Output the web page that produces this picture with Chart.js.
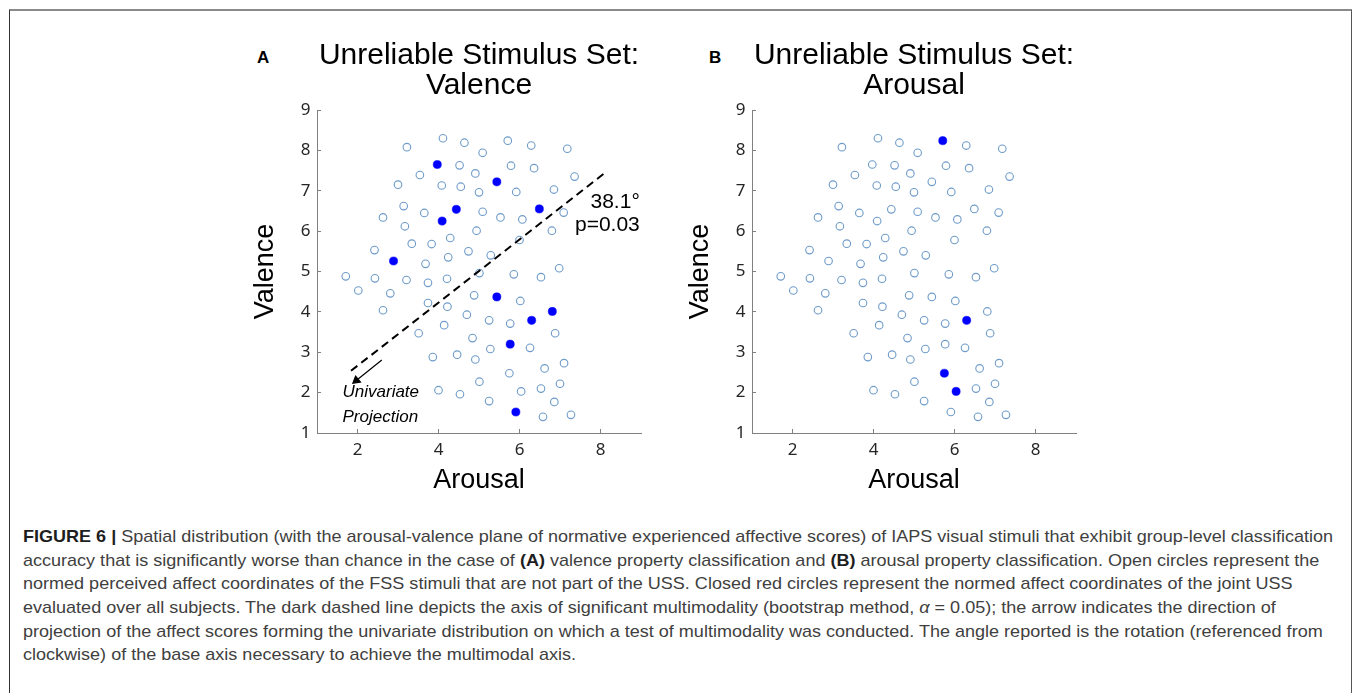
<!DOCTYPE html>
<html>
<head>
<meta charset="utf-8">
<script src="https://cdn.jsdelivr.net/npm/chart.js@4.4.1/dist/chart.umd.min.js"></script>
<style>
  html, body { margin: 0; padding: 0; background: #fff; }
  body { width: 1355px; height: 693px; position: relative; overflow: hidden; font-family: 'Liberation Sans', Arial, sans-serif; }
  .frame { position: absolute; left: 9px; top: 9px; width: 1341px; height: 720px; border-top: 2px solid #8a8a8a; border-left: 1px solid #333; border-right: 1px solid #555; }
  canvas { position: absolute; top: 30px; }
  #chartA { left: 230px; }
  #chartB { left: 665px; }
  .letter { position: absolute; top: 48px; font: bold 17px 'Liberation Sans', Arial, sans-serif; line-height: 20px; color: #000; }
  #caption { position: absolute; left: 23px; top: 525px; font-size: 17px; line-height: 23.65px; color: #404040; white-space: nowrap; transform-origin: 0 0;
    font-family: 'Liberation Sans', Arial, sans-serif; }
  #caption b { color: #1e1e1e; }
  #caption span { display: inline-block; }
</style>
</head>
<body>
<div class="frame"></div>
<div class="letter" style="left:257px">A</div>
<div class="letter" style="left:709px">B</div>
<canvas id="chartA" width="440" height="475"></canvas>
<canvas id="chartB" width="440" height="475"></canvas>
<div id="caption">
  <div><span id="l1"><b>FIGURE 6 |</b> Spatial distribution (with the arousal-valence plane of normative experienced affective scores) of IAPS visual stimuli that exhibit group-level classification</span></div>
  <div>accuracy that is significantly worse than chance in the case of <b>(A)</b> valence property classification and <b>(B)</b> arousal property classification. Open circles represent the</div>
  <div>normed perceived affect coordinates of the FSS stimuli that are not part of the USS. Closed red circles represent the normed affect coordinates of the joint USS</div>
  <div>evaluated over all subjects. The dark dashed line depicts the axis of significant multimodality (bootstrap method, <i>α</i> = 0.05); the arrow indicates the direction of</div>
  <div>projection of the affect scores forming the univariate distribution on which a test of multimodality was conducted. The angle reported is the rotation (referenced from</div>
  <div>clockwise) of the base axis necessary to achieve the multimodal axis.</div>
</div>
<script>
// normed affect scores of the FSS stimuli
const arousal = [4.11, 4.64, 5.71, 3.22, 6.29, 7.18, 5.09, 3.97, 4.52, 5.79,
  6.36, 3.54, 4.91, 7.36, 5.44, 3.00, 4.08, 4.55, 5.00, 5.92,
  6.85, 3.14, 4.44, 6.49, 2.63, 3.65, 5.09, 5.53, 7.09, 4.09,
  6.07, 3.17, 4.94, 6.80, 4.29, 6.00, 2.42, 3.34, 3.83, 4.74,
  5.29, 2.89, 4.24, 3.68, 6.98, 1.71, 2.43, 3.21, 3.74, 4.21,
  5.01, 5.86, 6.53, 2.02, 2.81, 4.88, 5.44, 2.63, 3.74, 4.22,
  6.02, 6.81, 4.70, 5.25, 6.30, 4.14, 5.77, 3.51, 6.88, 4.84,
  5.77, 5.28, 6.26, 3.86, 4.46, 4.91, 6.62, 7.10, 5.75, 5.01,
  7.00, 4.00, 4.53, 6.04, 6.53, 5.25, 6.86, 5.91, 6.58, 7.27]
const valence = [8.30, 8.19, 8.24, 8.08, 8.12, 8.04, 7.94, 7.65, 7.63, 7.62,
  7.56, 7.39, 7.43, 7.35, 7.22, 7.15, 7.13, 7.10, 6.96, 6.97,
  7.03, 6.62, 6.54, 6.55, 6.34, 6.45, 6.48, 6.34, 6.46, 6.25,
  6.29, 6.12, 6.01, 6.01, 5.83, 5.78, 5.53, 5.69, 5.68, 5.50,
  5.40, 5.26, 5.35, 5.19, 5.08, 4.88, 4.83, 4.79, 4.72, 4.82,
  4.96, 4.93, 4.86, 4.53, 4.46, 4.41, 4.37, 4.04, 4.22, 4.13,
  4.27, 4.01, 3.93, 3.79, 3.79, 3.67, 3.71, 3.47, 3.47, 3.35,
  3.20, 3.08, 3.11, 2.88, 2.94, 2.82, 2.60, 2.73, 2.48, 2.27,
  2.22, 2.06, 1.96, 2.03, 2.10, 1.79, 1.77, 1.52, 1.40, 1.45]

// stimuli in the unreliable stimulus set (index into the lists above)
const ussValence = [7, 14, 22, 23, 29, 41, 56, 61, 64, 70, 87]
const ussArousal = [2, 64, 78, 83]

// multimodal axis (dashed) and projection arrow, panel A
const axisX = [1.84, 8.17]
const axisY = [2.54, 7.49]
const arrowX = [2.60, 1.97]
const arrowY = [2.81, 2.30]

const xTicks = [2, 4, 6, 8]
const yTicks = [1, 2, 3, 4, 5, 6, 7, 8, 9]

function pts(xs, ys) {
  return xs.map((x, i) => ({ x: x, y: ys[i] }))
}

function split(uss) {
  const open = [], closed = []
  arousal.forEach((a, i) => {
    const p = { x: a, y: valence[i] }
    if (uss.includes(i)) closed.push(p)
    else open.push(p)
  })
  return { open, closed }
}

function scales() {
  return {
    x: {
      type: 'linear', min: 1, max: 9,
      afterBuildTicks: s => { s.ticks = xTicks.map(v => ({ value: v })) },
      afterFit: s => { s.height = 72 },
      grid: { display: true, drawOnChartArea: false, drawTicks: true, tickLength: -4, tickColor: '#808080' },
      border: { display: true, color: '#808080', width: 1 },
      ticks: { padding: 10.8, color: '#262626', maxRotation: 0, font: { family: 'Noto Sans', size: 17 } },
      title: { display: true, text: 'Arousal', color: '#000', font: { family: 'Liberation Sans', size: 27, lineHeight: 1.2 }, padding: { top: 0, bottom: 7.8 } }
    },
    y: {
      type: 'linear', min: 1, max: 9,
      afterBuildTicks: s => { s.ticks = yTicks.map(v => ({ value: v })) },
      afterFit: s => { s.width = 87 },
      grid: { display: true, drawOnChartArea: false, drawTicks: true, tickLength: -4, tickColor: '#808080' },
      border: { display: true, color: '#808080', width: 1 },
      ticks: { padding: 10.5, color: '#262626', font: { family: 'Noto Sans', size: 17 } },
      title: { display: true, text: 'Valence', color: '#000', font: { family: 'Liberation Sans', size: 27, lineHeight: 1.2 }, padding: { top: 19.3, bottom: 0 } }
    }
  }
}

const notes = {
  id: 'notes',
  afterDatasetsDraw(chart) {
    const { ctx, scales: { x, y } } = chart
    ctx.save()
    ctx.fillStyle = '#000'
    ctx.textBaseline = 'middle'
    ctx.textAlign = 'right'
    ctx.font = '21px "Liberation Sans"'
    ctx.fillText('38.1°', x.getPixelForValue(8.97), y.getPixelForValue(6.71))
    ctx.fillText('p=0.03', x.getPixelForValue(8.97), y.getPixelForValue(6.15))
    ctx.textAlign = 'left'
    ctx.font = 'italic 17px "Liberation Sans"'
    ctx.fillText('Univariate', x.getPixelForValue(1.63), y.getPixelForValue(2.0))
    ctx.fillText('Projection', x.getPixelForValue(1.63), y.getPixelForValue(1.4))
    ctx.restore()
  }
}

function makeChart(id, subtitle, uss, extra, plugins) {
  const d = split(uss)
  return new Chart(document.getElementById(id), {
    type: 'scatter',
    data: {
      datasets: extra.concat([
        {
          data: d.closed,
          pointRadius: 4.1,
          pointBackgroundColor: '#0000ff',
          pointBorderColor: '#0000ff',
          pointBorderWidth: 0.5
        },
        {
          data: d.open,
          pointRadius: 3.8,
          pointBackgroundColor: 'rgba(255,255,255,0)',
          pointBorderColor: '#6e9bc9',
          pointBorderWidth: 1.1
        }
      ])
    },
    options: {
      responsive: false,
      animation: false,
      devicePixelRatio: 1,
      layout: { padding: { left: 0, right: 29, top: 0, bottom: 0 } },
      scales: scales(),
      plugins: {
        legend: { display: false },
        tooltip: { enabled: false },
        title: {
          display: true,
          fullSize: false,
          text: ['Unreliable Stimulus Set:', subtitle],
          color: '#000',
          font: { family: 'Liberation Sans', size: 30, weight: 'normal', lineHeight: 1.0 },
          padding: { top: 10.5, bottom: 9.5 }
        }
      }
    },
    plugins: plugins
  })
}

makeChart('chartA', 'Valence', ussValence, [
  {
    data: pts(axisX, axisY),
    showLine: true,
    borderColor: '#000',
    borderWidth: 2,
    borderDash: [8, 5],
    pointRadius: 0
  },
  {
    data: pts(arrowX, arrowY),
    showLine: true,
    borderColor: '#000',
    borderWidth: 1.2,
    pointRadius: [0, 4.5],
    pointStyle: 'triangle',
    pointRotation: 231,
    pointBackgroundColor: '#000',
    pointBorderColor: '#000'
  }
], [notes])

makeChart('chartB', 'Arousal', ussArousal, [], [])

// fit the caption to the width of the original text block
const cap = document.getElementById('caption')
const w = document.getElementById('l1').getBoundingClientRect().width
cap.style.transform = 'scaleX(' + (1310 / w) + ')'
</script>
</body>
</html>
